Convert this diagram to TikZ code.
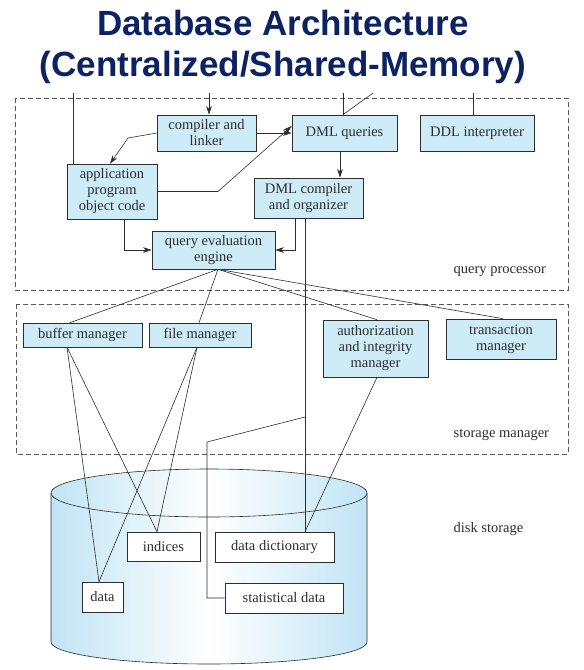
\documentclass[tikz,border=0pt]{standalone}
\usepackage{fontspec}
\setmainfont{Liberation Serif}
\newfontfamily\titlefont{Liberation Sans}
\usetikzlibrary{arrows.meta}
\definecolor{boxblue}{RGB}{206,235,248}
\definecolor{diskblue}{RGB}{192,228,245}
\definecolor{titleblue}{RGB}{12,34,98}
\definecolor{ink}{RGB}{45,45,45}

\begin{document}
\begin{tikzpicture}[x=1pt, y=-1pt, line width=0.6pt, draw=ink,
  every node/.style={font=\fontsize{14.5}{16}\selectfont, text=ink},
  box/.style={draw=ink, fill=boxblue, align=center, inner sep=0pt},
  file/.style={draw=ink, fill=white, align=center, inner sep=0pt},
  area/.style={draw=ink!80, dash pattern=on 5pt off 3pt},
  arr/.style={-{Stealth[length=8.5pt,width=5.5pt,inset=2.5pt]}}]
\useasboundingbox (0,0) rectangle (584,670);

% title
\node (title) [font=\titlefont\bfseries\fontsize{35}{41}\selectfont, text=titleblue, align=center] at (283,46.5) {Database Architecture\\(Centralized/Shared-Memory)};

% dashed areas
\draw [area] (15,98) rectangle (568,290);
\draw [area] (16,304) rectangle (568,454);
\node [anchor=base west] at (450,273) {query processor};
\node [anchor=base west] at (450,437) {storage manager};
\node [anchor=base west] at (450,532) {disk storage};

% disk
\shade [left color=diskblue, right color=diskblue, middle color=white]
  (51,493) -- (51,642) arc (180:0:158 and 22) -- (367,493) arc (0:-180:158 and 24) -- cycle;
\draw (51,493) -- (51,642) arc (180:0:158 and 22) -- (367,493);
\draw (209,493) ellipse (158 and 24);

% query processor
\node [box, minimum width=99, minimum height=36] (comp) at (206.5,133) {compiler and\\linker};
\node [box, minimum width=105, minimum height=36] (dmlq) at (344.5,133) {DML queries};
\node [box, minimum width=114, minimum height=36] (ddl) at (477,133) {DDL interpreter};
\node [box, minimum width=90, minimum height=55] (app) at (112,191.5) {application\\program\\object code};
\node [box, minimum width=109, minimum height=40] (dmlc) at (308.5,198) {DML compiler\\and organizer};
\node [box, minimum width=123, minimum height=38] (qee) at (213.5,250) {query evaluation\\engine};

% storage manager
\node [box, minimum width=119, minimum height=24] (buf) at (82.5,335) {buffer manager};
\node [box, minimum width=102, minimum height=24] (filem) at (200,335) {file manager};
\node [box, minimum width=105, minimum height=57] (auth) at (375.5,348.5) {authorization\\and integrity\\manager};
\node [box, minimum width=110, minimum height=40] (trans) at (501,339) {transaction\\manager};

% disk storage
\node [file, minimum width=73, minimum height=29] (idx) at (163.5,546.5) {indices};
\node [file, minimum width=119, minimum height=30] (dd) at (274.5,547) {data dictionary};
\node [file, minimum width=41, minimum height=30] (data) at (102.5,597) {data};
\node [file, minimum width=118, minimum height=30] (stat) at (284,598) {statistical data};

% inputs from above
\coordinate (in1) at (73,93);
\coordinate (in2) at (209,93);
\coordinate (in3) at (343,93);
\coordinate (in4) at (373,93);
\coordinate (in5) at (473,93);
\draw (in1) -- (in1 |- app.north);
\draw [arr] (in2) -- (in2 |- comp.north);
\draw (in3) -- (in3 |- dmlq.north);
\draw (in4) -- (in3 |- dmlq.north);
\draw (in5) -- (in5 |- ddl.north);

% query processor links
\draw [arr] (comp.east) -- (dmlq.west);
\draw [arr] (comp.west) -- (128,138) -- ([xshift=-2]app.north);
\draw [arr] (app.east) -- (218,191.5) -- ([yshift=7]dmlq.west);
\draw [arr] ([xshift=-4.5]dmlq.south) -- ([xshift=-4.5]dmlq.south |- dmlc.north);
\draw [arr] ([xshift=12]app.south) |- (qee.west);
\draw [arr] ([xshift=-13.5]dmlc.south) |- (qee.east);

% to the storage manager
\coordinate (fan) at ([xshift=4.5]qee.south);
\draw (fan) -- ([xshift=-12.5]buf.north);
\draw (fan) -- ([xshift=-1]filem.north);
\draw (fan) -- ([xshift=1.5]auth.north);
\draw (fan) -- ([xshift=2]trans.north);

% to the disk
\coordinate (dc) at ([xshift=-3.5]dmlc.south);
\coordinate (br) at (dc |- 0,417);
\draw (dc) -- (dc |- dd.north);
\draw (br) -- (207,442) |- (stat.west);
\draw ([xshift=1.5]auth.south) -- (dc |- dd.north);
\draw ([xshift=-15.5]buf.south) -- ([xshift=-3.5]data.north);
\draw ([xshift=-15.5]buf.south) -- ([xshift=-6.5]idx.north);
\draw ([xshift=-3]filem.south) -- ([xshift=-3.5]data.north);
\draw ([xshift=-3]filem.south) -- ([xshift=-6.5]idx.north);
\end{tikzpicture}
\end{document}
